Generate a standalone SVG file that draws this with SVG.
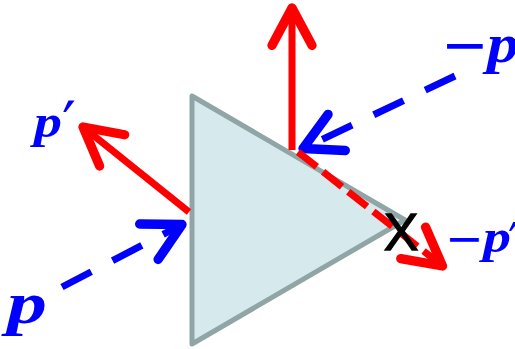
<svg xmlns="http://www.w3.org/2000/svg" width="515" height="349" viewBox="0 0 515 349">
  <style>
    .tri { fill: #d6eaee; stroke: #8fa5a6; stroke-width: 5; stroke-linejoin: round; }
    .red { stroke: #ff0000; stroke-width: 7; fill: none; }
    .blue { stroke: #0000ff; stroke-width: 7; fill: none; }
    .dashb { stroke-dasharray: 33 24; }
    .dashr { stroke-dasharray: 24 8; }
    .lbl { font-family: "Liberation Serif", "DejaVu Serif", serif; font-style: italic; font-weight: bold; fill: #0000ff; }
    .minus { font-family: "DejaVu Sans", sans-serif; font-style: normal; font-weight: normal; }
    .prime { font-family: "DejaVu Sans", sans-serif; font-style: normal; font-weight: normal; }
    .x { font-family: "Liberation Sans", Arial, sans-serif; fill: #000000; stroke: #000000; stroke-width: 1.3; }
  </style>
  <defs>
    <marker id="ahRed" markerUnits="userSpaceOnUse" orient="auto" refX="0" refY="0" markerWidth="60" markerHeight="60" viewBox="-40 -20 45 40" overflow="visible">
      <path d="M-28,-15 L0,0 L-28,15" fill="none" stroke="#ff0000" stroke-width="7" stroke-linecap="round" stroke-linejoin="round" stroke-dasharray="none"/>
    </marker>
    <marker id="ahBlue" markerUnits="userSpaceOnUse" orient="auto" refX="0" refY="0" markerWidth="60" markerHeight="60" viewBox="-40 -20 45 40" overflow="visible">
      <path d="M-28,-15 L0,0 L-28,15" fill="none" stroke="#0000ff" stroke-width="7" stroke-linecap="round" stroke-linejoin="round" stroke-dasharray="none"/>
    </marker>
  </defs>

  <g id="prism">
    <polygon class="tri" points="192,96 192,344 405,220"/>
  </g>

  <g id="connectors">
    <line id="p-prime-out" class="red" x1="189" y1="212" x2="83" y2="127" marker-end="url(#ahRed)"/>
    <line id="up-out" class="red" x1="292" y1="150" x2="292" y2="8" marker-end="url(#ahRed)"/>
    <line id="p-in" class="blue dashb" x1="62" y1="287" x2="182" y2="224.5" marker-end="url(#ahBlue)"/>
    <line id="minus-p-in" class="blue dashb" x1="455" y1="76" x2="303" y2="148.5" marker-end="url(#ahBlue)"/>
    <line id="minus-p-prime-out" class="red dashr" x1="298" y1="152" x2="442.5" y2="266" marker-end="url(#ahRed)"/>
  </g>

  <g id="x-mark">
    <text class="x" x="401" y="250" font-size="52" text-anchor="middle">X</text>
  </g>

  <g id="labels">
    <g id="label-p-prime">
      <text class="lbl" x="34" y="137" font-size="46"><tspan textLength="28" lengthAdjust="spacingAndGlyphs">p</tspan><tspan class="prime" x="62" y="146" font-size="62">′</tspan></text>
    </g>
    <g id="label-p">
      <text class="lbl" x="7" y="323" font-size="60" textLength="40" lengthAdjust="spacingAndGlyphs">p</text>
    </g>
    <g id="label-minus-p">
      <text class="lbl" x="441" y="64" font-size="54"><tspan class="minus" font-size="57">−</tspan><tspan x="487" y="62" textLength="32" lengthAdjust="spacingAndGlyphs">p</tspan></text>
    </g>
    <g id="label-minus-p-prime">
      <text class="lbl" x="445" y="254" font-size="46"><tspan class="minus">−</tspan><tspan x="483" y="252" textLength="28" lengthAdjust="spacingAndGlyphs">p</tspan><tspan class="prime" x="508" y="258" font-size="50">′</tspan></text>
    </g>
  </g>
</svg>
